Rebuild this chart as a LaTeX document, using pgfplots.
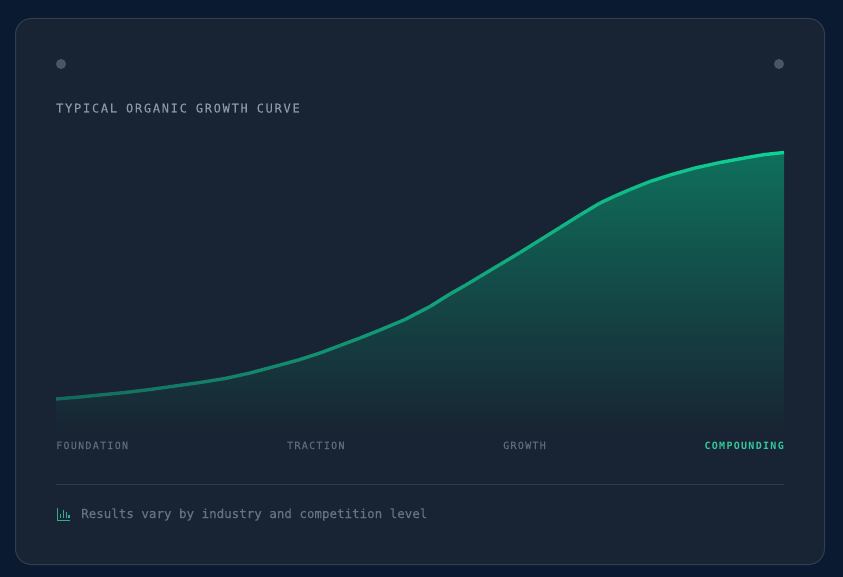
\documentclass[border=0pt]{standalone}
\usepackage{fontspec}
\setmainfont{Liberation Sans}
\newfontfamily\jmn[FakeBold=0.1]{DejaVu Sans Mono}
\newfontfamily\jml[LetterSpace=13,FakeBold=0.1]{DejaVu Sans Mono}
\newfontfamily\jmb[LetterSpace=13]{DejaVu Sans Mono Bold}
\newfontfamily\jmt[LetterSpace=14.3,FakeBold=0.15]{DejaVu Sans Mono}
\usepackage{pgfplots}
\pgfplotsset{compat=1.18}
\definecolor{pagebg}{HTML}{0A1A30}
\definecolor{cardbg}{HTML}{182433}
\definecolor{cardedge}{HTML}{323E4E}
\definecolor{dotc}{HTML}{4A5566}
\definecolor{titlec}{HTML}{8C98A8}
\definecolor{labelc}{HTML}{5F6B7B}
\definecolor{notec}{HTML}{667181}
\definecolor{accent}{HTML}{34C79A}
\definecolor{ruleC}{HTML}{303C4C}
\definecolor{fillTop}{HTML}{0F705C}
\pgfplotstableread{
x y
56 399
80 397
100 395
125 392.5
150 389.5
175 386
200 382.5
225 378.5
250 373
280 365
300 359.5
320 353
340 345.5
360 338
380 330
405 319.5
430 306.5
450 294
465 285.5
480 276.5
500 264.5
520 252.5
540 240
560 227.5
580 215
600 203
615 196
630 189.5
650 181.5
670 175
695 168
720 162.5
750 157
765 154.5
784 152.5
}\curve
\begin{document}
\begin{tikzpicture}[x=1pt,y=-1pt]
\fill[pagebg] (0,0) rectangle (843,577);
\useasboundingbox (0,0) rectangle (843,577);
\filldraw[fill=cardbg,draw=cardedge,line width=1pt,rounded corners=16pt] (15.5,18.5) rectangle (824.5,564.5);
\fill[dotc] (61,64) circle (5);
\fill[dotc] (779,64) circle (5);
\node[anchor=base west,inner sep=0,text=titlec,font=\fontsize{12}{14}\jmt] at (56,112.5) {TYPICAL ORGANIC GROWTH CURVE};
\begin{axis}[
  at={(0pt,-577pt)},anchor=south west,
  scale only axis,width=843pt,height=577pt,
  xmin=0,xmax=843,ymin=0,ymax=577,y dir=reverse,
  hide axis,clip=false]
  \addplot[draw=none,top color=fillTop,bottom color=cardbg,middle color=fillTop!48!cardbg] table[x=x,y=y]{\curve} -- (axis cs:784,432) -- (axis cs:56,432) -- cycle;
  \addplot[mesh,shader=flat,point meta=x,line width=3.4pt,
     colormap={g}{rgb255(0)=(20,105,92); rgb255(1)=(16,210,148)}
     ] table[x=x,y=y]{\curve};
\end{axis}
\node[anchor=base west,inner sep=0,text=labelc,font=\fontsize{10}{12}\jml] at (56,449) {FOUNDATION};
\node[anchor=base west,inner sep=0,text=labelc,font=\fontsize{10}{12}\jml] at (287,449) {TRACTION};
\node[anchor=base west,inner sep=0,text=labelc,font=\fontsize{10}{12}\jml] at (503,449) {GROWTH};
\node[anchor=base east,inner sep=0,text=accent,font=\fontsize{10}{12}\jmb] at (784,449) {COMPOUNDING};
\draw[ruleC,line width=1pt] (56,484.5) -- (784,484.5);
\begin{scope}[draw=accent!85!cardbg,line width=1.3pt]
\draw (57.5,508) -- (57.5,520.5) -- (70,520.5);
\draw (60.7,518) -- (60.7,513.5);
\draw (63.7,518) -- (63.7,509.5);
\draw (66.5,518) -- (66.5,512);
\draw (69,518) -- (69,514.5);
\end{scope}
\node[anchor=base west,inner sep=0,text=notec,font=\fontsize{12.5}{14}\jmn] at (81,518) {Results vary by industry and competition level};
\end{tikzpicture}
\end{document}
